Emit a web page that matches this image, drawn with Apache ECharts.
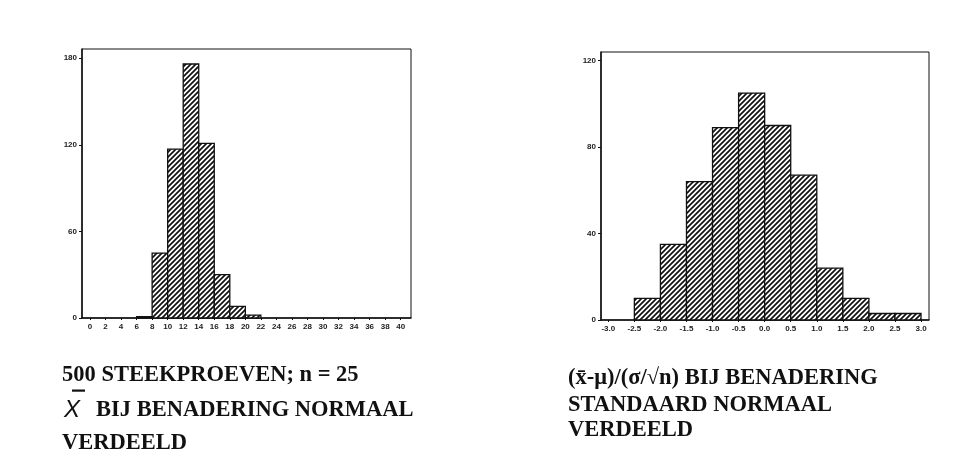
<!DOCTYPE html>
<html>
<head>
<meta charset="utf-8">
<script src="https://cdn.jsdelivr.net/npm/echarts@6/dist/echarts.min.js"></script>
<style>html,body{margin:0;padding:0;background:#fff}#c{width:960px;height:468px}</style>
</head>
<body>
<div id="c"></div>
<script>
// ---- Data ----
var leftBinStart = [6, 8, 10, 12, 14, 16, 18, 20];
var leftBinWidth = 2;
var leftCounts = [1, 45, 117, 176, 121, 30, 8, 2];
var leftXTicks = [0,2,4,6,8,10,12,14,16,18,20,22,24,26,28,30,32,34,36,38,40];
var leftYTicks = [0, 60, 120, 180];

var rightBinStart = [-2.5, -2.0, -1.5, -1.0, -0.5, 0.0, 0.5, 1.0, 1.5, 2.0, 2.5];
var rightBinWidth = 0.5;
var rightCounts = [10, 35, 64, 89, 105, 90, 67, 24, 10, 3, 3];
var rightXTicks = [-3.0,-2.5,-2.0,-1.5,-1.0,-0.5,0.0,0.5,1.0,1.5,2.0,2.5,3.0];
var rightYTicks = [0, 40, 80, 120];

var leftCaption = ['500 STEEKPROEVEN; n = 25', 'BIJ BENADERING NORMAAL', 'VERDEELD'];
var leftSymbol = 'X';
var rightCaption = ['(x\u0304-\u03bc)/(\u03c3/\u221an) BIJ BENADERING', 'STANDAARD NORMAAL', 'VERDEELD'];

// ---- Hatch pattern ----
function makeHatch() {
  var s = 5;
  var cv = document.createElement('canvas');
  cv.width = s; cv.height = s;
  var ctx = cv.getContext('2d');
  ctx.fillStyle = '#fff';
  ctx.fillRect(0, 0, s, s);
  ctx.strokeStyle = '#111';
  ctx.lineWidth = 1.7;
  ctx.beginPath();
  ctx.moveTo(0, s); ctx.lineTo(s, 0);
  ctx.moveTo(-1, 1); ctx.lineTo(1, -1);
  ctx.moveTo(s - 1, s + 1); ctx.lineTo(s + 1, s - 1);
  ctx.stroke();
  return cv;
}
var hatch = makeHatch();

function toData(starts, w, counts) {
  return starts.map(function (s, i) { return [s, s + w, counts[i]]; });
}

function renderBin(params, api) {
  var p0 = api.coord([api.value(0), 0]);
  var p1 = api.coord([api.value(1), api.value(2)]);
  return {
    type: 'rect',
    shape: { x: p0[0], y: p1[1], width: p1[0] - p0[0], height: p0[1] - p1[1] },
    style: { fill: { image: hatch, repeat: 'repeat' }, stroke: '#111', lineWidth: 1.3 }
  };
}

var labelFont = { fontFamily: 'Liberation Sans, Arial, sans-serif', fontSize: 8, fontWeight: 'bold', color: '#222' };

function xAxis(gi, min, max, ticks, fmt) {
  return {
    type: 'value', gridIndex: gi, min: min, max: max,
    splitLine: { show: false },
    axisLine: { show: true, onZero: false, lineStyle: { color: '#111', width: 1.5 } },
    axisTick: { show: true, length: 2, customValues: ticks, lineStyle: { color: '#111' } },
    axisLabel: Object.assign({ margin: 5, customValues: ticks, formatter: fmt }, labelFont)
  };
}
function yAxis(gi, max, ticks) {
  return {
    type: 'value', gridIndex: gi, min: 0, max: max,
    splitLine: { show: false },
    axisLine: { show: true, onZero: false, lineStyle: { color: '#111', width: 1.5 } },
    axisTick: { show: true, length: 3, customValues: ticks, lineStyle: { color: '#111' } },
    axisLabel: Object.assign({ margin: 5, customValues: ticks }, labelFont)
  };
}

var capFont = 'bold 22.5px "Liberation Serif", "Times New Roman", serif';

var chart = echarts.init(document.getElementById('c'), null, { renderer: 'canvas' });
chart.setOption({
  backgroundColor: '#fff',
  animation: false,
  grid: [
    { left: 82, top: 49, width: 329, height: 269, show: true, borderColor: '#111', borderWidth: 1 },
    { left: 601, top: 52, width: 328, height: 268, show: true, borderColor: '#111', borderWidth: 1 }
  ],
  xAxis: [
    xAxis(0, -1.03, 41.33, leftXTicks, function (v) { return String(v); }),
    xAxis(1, -3.14, 3.153, rightXTicks, function (v) { return v.toFixed(1); })
  ],
  yAxis: [
    yAxis(0, 186.4, leftYTicks),
    yAxis(1, 124.0, rightYTicks)
  ],
  series: [
    { type: 'custom', xAxisIndex: 0, yAxisIndex: 0, renderItem: renderBin,
      encode: { x: [0, 1], y: 2 }, data: toData(leftBinStart, leftBinWidth, leftCounts) },
    { type: 'custom', xAxisIndex: 1, yAxisIndex: 1, renderItem: renderBin,
      encode: { x: [0, 1], y: 2 }, data: toData(rightBinStart, rightBinWidth, rightCounts) }
  ],
  graphic: [
    { type: 'text', x: 62, y: 375, style: { text: leftCaption[0], font: capFont, fill: '#111', verticalAlign: 'middle' } },
    { type: 'text', x: 64, y: 410, style: { text: leftSymbol, font: 'italic 24px "Liberation Sans", Arial, sans-serif', fill: '#111', verticalAlign: 'middle' } },
    { type: 'rect', shape: { x: 72, y: 389.5, width: 13, height: 2.2 }, style: { fill: '#111' } },
    { type: 'text', x: 96, y: 410, style: { text: leftCaption[1], font: capFont, fill: '#111', verticalAlign: 'middle' } },
    { type: 'text', x: 62, y: 443, style: { text: leftCaption[2], font: capFont, fill: '#111', verticalAlign: 'middle' } },
    { type: 'text', x: 568, y: 378, style: { text: rightCaption[0], font: capFont, fill: '#111', verticalAlign: 'middle' } },
    { type: 'text', x: 568, y: 405, style: { text: rightCaption[1], font: capFont, fill: '#111', verticalAlign: 'middle' } },
    { type: 'text', x: 568, y: 430, style: { text: rightCaption[2], font: capFont, fill: '#111', verticalAlign: 'middle' } }
  ]
});
</script>
</body>
</html>
